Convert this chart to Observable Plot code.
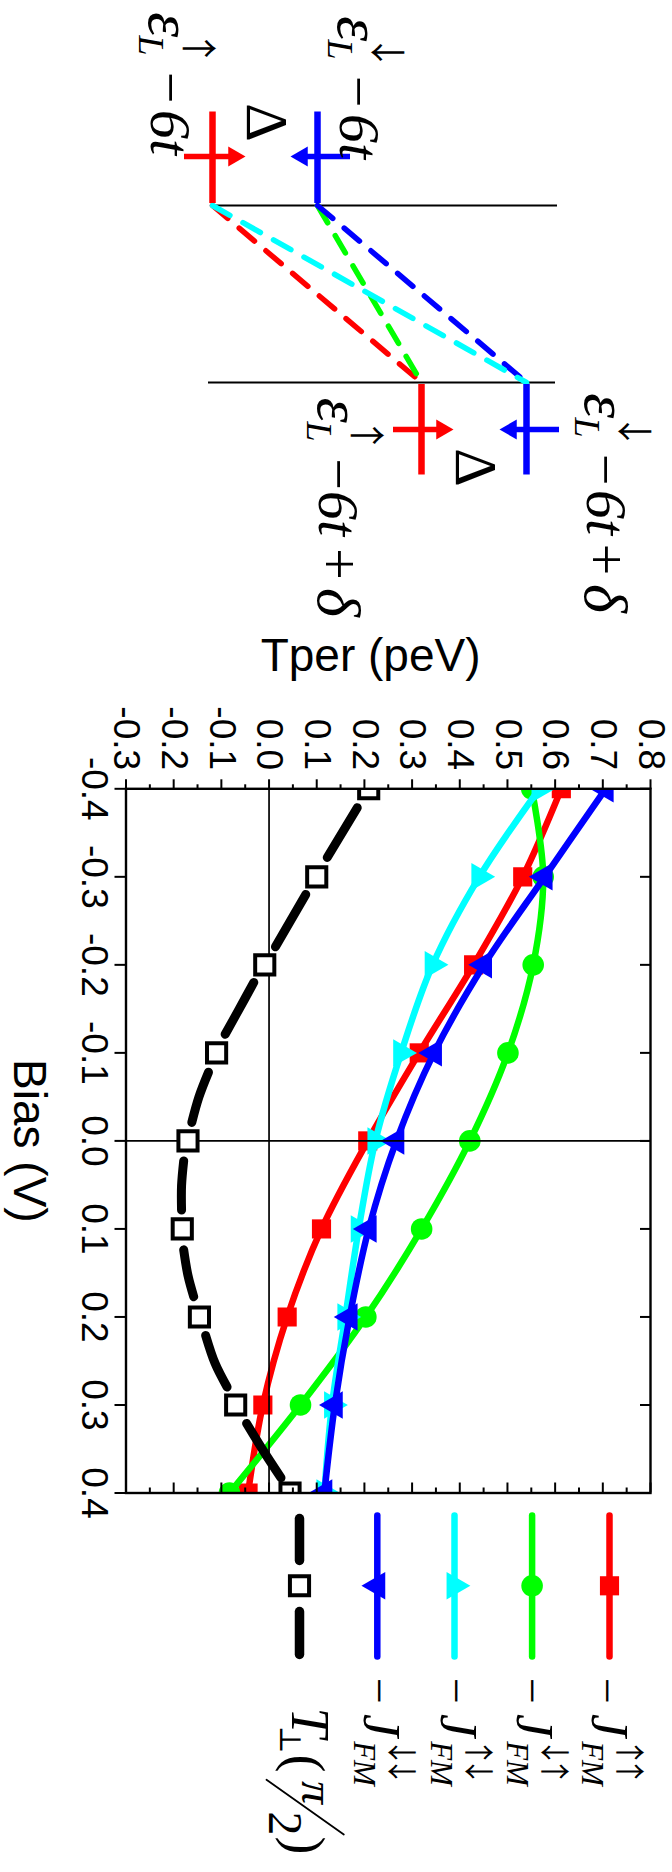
<!DOCTYPE html>
<html>
<head>
<meta charset="utf-8">
<script src="https://cdn.jsdelivr.net/npm/d3@7"></script>
<script src="https://cdn.jsdelivr.net/npm/@observablehq/plot@0.6"></script>
<style>
html,body{margin:0;padding:0;background:#fff}
#page{position:relative;width:672px;height:1872px;overflow:hidden}
#page svg{position:absolute;left:0;top:0;overflow:visible;background:transparent}
</style>
</head>
<body>
<div id="page"></div>
<script>
// ---- chart data ----
const bias = [-0.4,-0.3,-0.2,-0.1,0.0,0.1,0.2,0.3,0.4];
const jUpUp     = [0.613,0.532,0.429,0.315,0.207,0.110,0.038,-0.013,-0.044];
const jDownUp   = [0.551,0.575,0.554,0.501,0.421,0.320,0.203,0.066,-0.083];
const jUpDown   = [0.567,0.441,0.343,0.277,0.223,0.188,0.160,0.132,0.116];
const jDownDown = [0.706,0.578,0.451,0.346,0.267,0.209,0.169,0.138,0.116];
const tPerp     = [0.209,0.100,-0.009,-0.110,-0.170,-0.182,-0.146,-0.070,0.044];
// the black curve is broken around its markers: visible pieces [bias, T]
const tPerpPieces = [
  [[-0.3785,0.185],[-0.322,0.122]],
  [[-0.280,0.077],[-0.2205,0.0134]],
  [[-0.180,-0.032],[-0.1495,-0.063],[-0.1212,-0.092]],
  [[-0.078,-0.127],[-0.050,-0.147],[-0.021,-0.162]],
  [[0.0227,-0.179],[0.051,-0.1835],[0.0786,-0.1835]],
  [[0.1238,-0.179],[0.153,-0.170],[0.177,-0.158]],
  [[0.221,-0.133],[0.253,-0.113],[0.2796,-0.088]],
  [[0.321,-0.047],[0.352,-0.012],[0.3827,0.025]]
];
const tperMajor = [-0.3,-0.2,-0.1,0,0.1,0.2,0.3,0.4,0.5,0.6,0.7,0.8];
const tperMinor = [-0.25,-0.15,-0.05,0.05,0.15,0.25,0.35,0.45,0.55,0.65,0.75];
const biasTicks = [-0.4,-0.3,-0.2,-0.1,0,0.1,0.2,0.3,0.4];

const RED="#ff0000", GREEN="#00ff00", CYAN="#00ffff", BLUE="#0000ff";
const fmt = d => d.toFixed(1);
const SANS = "'Liberation Sans', Arial, sans-serif";
const SERIF = "'Liberation Serif', 'DejaVu Serif', serif";
const CJK = "'Noto Sans CJK JP', 'DejaVu Sans', sans-serif";
const W = 672, H = 1872;

const markers = {
  red:   {symbol:"square", r:10.8, fill:RED, stroke:"none"},
  green: {symbol:"circle", r:10.8, fill:GREEN, stroke:"none"},
  cyan:  {symbol:"triangle", r:10.2, rotate:90, fill:CYAN, stroke:"none"},
  blue:  {symbol:"triangle", r:10.2, rotate:-90, fill:BLUE, stroke:"none"},
  black: {symbol:"square", r:10.8, fill:"white", stroke:"black", strokeWidth:4}
};
const series = [
  {v:jUpUp, c:RED, m:markers.red},
  {v:jDownUp, c:GREEN, m:markers.green},
  {v:jUpDown, c:CYAN, m:markers.cyan},
  {v:jDownDown, c:BLUE, m:markers.blue}
];
const curve = "catmull-rom";

const chart = Plot.plot({
  width:W, height:H,
  marginLeft:125.5, marginRight:22, marginTop:788.3, marginBottom:H-1492.5,
  style:{fontFamily:SANS, background:"transparent", overflow:"visible"},
  x:{domain:[-0.3,0.8], axis:null},
  y:{domain:[-0.4,0.4], reverse:true, axis:null},
  marks:[
    ...series.flatMap(s=>[
      Plot.line(bias,{x:s.v,y:bias,stroke:s.c,strokeWidth:6.5,curve,clip:true}),
      Plot.dot(bias,{x:s.v,y:bias,...s.m,clip:true})
    ]),
    Plot.ruleX([0],{stroke:"black",strokeWidth:1.7}),
    Plot.ruleY([0],{stroke:"black",strokeWidth:1.7}),
    ...tPerpPieces.map(p=>Plot.line(p,{x:d=>d[1],y:d=>d[0],stroke:"black",strokeWidth:9,strokeLinecap:"round",curve})),
    Plot.dot(bias,{x:tPerp,y:bias,...markers.black,clip:true}),
    Plot.frame({stroke:"black",strokeWidth:2.4}),
    Plot.axisX({anchor:"top",ticks:tperMajor,tickSize:10,tickPadding:8.7,tickRotate:90,tickFormat:fmt,fontSize:37,strokeWidth:2,fill:"black"}),
    Plot.axisX({anchor:"top",ticks:tperMinor,tickSize:5,text:null,strokeWidth:2}),
    Plot.axisX({anchor:"bottom",ticks:tperMajor,tickSize:-10,text:null,strokeWidth:2}),
    Plot.axisX({anchor:"bottom",ticks:tperMinor,tickSize:-5,text:null,strokeWidth:2}),
    Plot.axisY({anchor:"left",ticks:biasTicks,tickSize:11,text:null,strokeWidth:2}),
    Plot.axisY({anchor:"right",ticks:biasTicks,tickSize:-11,text:null,strokeWidth:2}),
    Plot.text(biasTicks,{x:-0.3,y:d=>d,text:fmt,dx:-32,rotate:90,textAnchor:"middle",lineAnchor:"middle",fontSize:37,fill:"black"}),
    Plot.text(["Bias (V)"],{x:-0.504,y:0,rotate:90,textAnchor:"middle",lineAnchor:"middle",fontSize:46,fill:"black"}),
    Plot.text(["Tper (peV)"],{x:0.213,y:-0.55,textAnchor:"middle",lineAnchor:"middle",fontSize:46,fill:"black"})
  ]
});

// ---- schematic and legend: drawn in a unit space of the page ----
const contacts = [
  {x1:211,x2:557,y:205},
  {x1:208,x2:555,y:382}
];
const channels = [
  {c:RED,  pts:[[212,205],[421,382]]},
  {c:GREEN,pts:[[317,205],[421,382]]},
  {c:BLUE, pts:[[317,205],[526,382]]},
  {c:CYAN, pts:[[212,205],[526,382]]}
];
const levels = [
  {c:RED, x:212,y1:111.5,y2:203,  bar:[184,236],yb:156,head:233.5,rot:90},
  {c:BLUE,x:317,y1:111.5,y2:203,  bar:[297,350],yb:156,head:301.5,rot:-90},
  {c:RED, x:421,y1:384,  y2:474.5,bar:[393,444],yb:429,head:441.5,rot:90},
  {c:BLUE,x:526,y1:384,  y2:474.5,bar:[506,559],yb:429,head:510.5,rot:-90}
];
const deltaMarks = [{x:266,y:122},{x:475,y:467}];
const levelLabels = [
  {x:169,   arrow:"↑", eps:24,  L:45,  ar:48,  minus:87,  six:132},
  {x:357.6, arrow:"↓", eps:28,  L:49,  ar:52,  minus:91,  six:136},
  {x:337.5, arrow:"↑", eps:409.5,L:431,ar:435, minus:473.5,six:513, plus:563.5,delta:602},
  {x:604.6, arrow:"↓", eps:405, L:427, ar:431, minus:469, six:512, plus:559, delta:598}
];
const legendRows = [
  {c:RED,  x:609,   m:markers.red,   tx:606,   arrows:["↑","↑"]},
  {c:GREEN,x:531.6, m:markers.green, tx:531.5, arrows:["↓","↑"]},
  {c:CYAN, x:454,   m:markers.cyan,  tx:455,   arrows:["↑","↓"]},
  {c:BLUE, x:376.8, m:markers.blue,  tx:378.3, arrows:["↓","↓"]}
];
const rotText = (rows,extra={}) => Plot.text(rows,{x:"x",y:"y",text:"t",fontSize:"s",rotate:90,textAnchor:"middle",lineAnchor:"middle",fill:"black",fontFamily:SERIF,...extra});
const italic = [], upright = [], arrowText = [];
for (const l of levelLabels) {
  italic.push({t:"ε",x:l.x,y:l.eps,s:64},{t:"L",x:l.x-19,y:l.L,s:36},{t:"6t",x:l.x,y:l.six,s:58});
  arrowText.push({t:l.arrow,x:l.x+27,y:l.ar,s:36});
  upright.push({t:"−",x:l.x,y:l.minus,s:56});
  if (l.plus) { upright.push({t:"+",x:l.x,y:l.plus,s:56}); italic.push({t:"δ",x:l.x,y:l.delta,s:62}); }
}
for (const d of deltaMarks) upright.push({t:"Δ",x:d.x,y:d.y,s:60});
for (const r of legendRows) {
  upright.push({t:"−",x:r.tx,y:1690.5,s:46});
  italic.push({t:"J",x:r.tx+2,y:1725,s:52},{t:"FM",x:r.tx-15,y:1763,s:31});
  arrowText.push({t:r.arrows[0],x:r.tx+22,y:1752,s:30},{t:r.arrows[1],x:r.tx+22,y:1771,s:30});
}
italic.push({t:"T",x:309,y:1722,s:54},{t:"π",x:316,y:1792,s:46});
upright.push({t:"⊥",x:289,y:1739,s:30},{t:"(",x:304,y:1763,s:54},{t:"2",x:284,y:1823,s:48},{t:")",x:304,y:1845,s:54});
const fractionBar = [[266,1779.3],[343.3,1834]];

const overlay = Plot.plot({
  width:W, height:H, margin:0,
  style:{background:"transparent", overflow:"visible"},
  x:{domain:[0,W], range:[0,W], axis:null},
  y:{domain:[0,H], range:[0,H], axis:null},
  marks:[
    ...contacts.map(c=>Plot.ruleY([c.y],{x1:c.x1,x2:c.x2,stroke:"black",strokeWidth:2.2})),
    ...channels.map(c=>Plot.line(c.pts,{x:d=>d[0],y:d=>d[1],stroke:c.c,strokeWidth:5.5,strokeDasharray:"20 15"})),
    ...levels.flatMap(l=>[
      Plot.ruleX([l.x],{y1:l.y1,y2:l.y2,stroke:l.c,strokeWidth:6.5}),
      Plot.ruleY([l.yb],{x1:l.bar[0],x2:l.bar[1],stroke:l.c,strokeWidth:5.5}),
      Plot.dot([l.head],{x:d=>d,y:l.yb,symbol:"triangle",r:7.4,rotate:l.rot,fill:l.c,stroke:"none"})
    ]),
    ...legendRows.flatMap(r=>[
      Plot.line([[r.x,1515],[r.x,1656]],{x:d=>d[0],y:d=>d[1],stroke:r.c,strokeWidth:6.5,strokeLinecap:"round"}),
      Plot.dot([r.x],{x:d=>d,y:1585.3,...r.m})
    ]),
    Plot.line([[299,1518],[299,1560]],{x:d=>d[0],y:d=>d[1],stroke:"black",strokeWidth:9.5,strokeLinecap:"round"}),
    Plot.line([[299,1611],[299,1654]],{x:d=>d[0],y:d=>d[1],stroke:"black",strokeWidth:9.5,strokeLinecap:"round"}),
    Plot.dot([299],{x:d=>d,y:1585.3,...markers.black}),
    rotText(italic,{fontStyle:"italic"}),
    rotText(upright),
    rotText(arrowText,{fontFamily:CJK}),
    Plot.line(fractionBar,{x:d=>d[0],y:d=>d[1],stroke:"black",strokeWidth:1.8})
  ]
});
const page = document.getElementById("page");
page.append(chart, overlay);
</script>
</body>
</html>
